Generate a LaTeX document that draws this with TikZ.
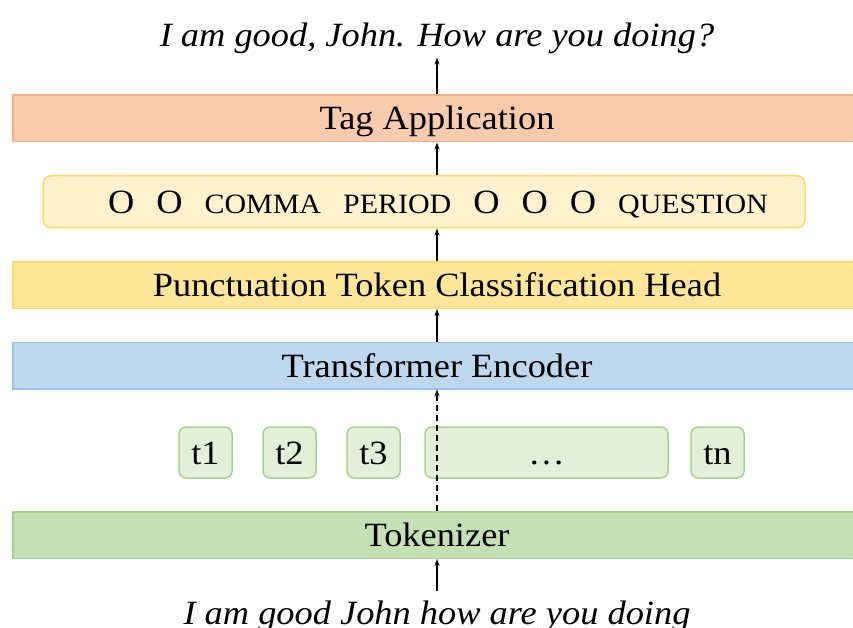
\documentclass[tikz,border=0pt]{standalone}
\usepackage{fontspec}
\setmainfont[FakeStretch=1.07]{Liberation Serif}
\usetikzlibrary{positioning,arrows.meta}
\definecolor{tagfill}{HTML}{F8CBAD}
\definecolor{tagline}{HTML}{F4B183}
\definecolor{rowfill}{HTML}{FFF2CC}
\definecolor{rowline}{HTML}{FFD966}
\definecolor{headfill}{HTML}{FFE699}
\definecolor{encfill}{HTML}{BDD7EE}
\definecolor{encline}{HTML}{9DC3E6}
\definecolor{tokfill}{HTML}{E2F0D9}
\definecolor{tokline}{HTML}{A9D18E}
\definecolor{tkzfill}{HTML}{C5E0B4}
\newcommand\bigtxt{\fontsize{34}{40}\selectfont}
\newcommand\sentence{\fontsize{34}{40}\selectfont\itshape}
\newcommand\tagword[1]{{\fontsize{28}{32}\selectfont #1}}

\begin{document}
\begin{tikzpicture}[x=1pt, y=-1pt, node distance=32.5pt, font=\bigtxt,
    bar/.style = {draw, line width=1.5pt, minimum width=848pt, minimum height=46.5pt, inner sep=0pt,
                  text height=23pt, text depth=0pt},
    tok/.style = {draw=tokline, fill=tokfill, line width=1.5pt, rounded corners=7pt,
                  minimum width=53pt, minimum height=51pt, inner sep=0pt, text height=23pt, text depth=0pt},
    arr/.style = {-{Stealth[length=7pt, width=5pt]}, line width=1.2pt}]
    \useasboundingbox (0,0) rectangle (853,628);
    \node[bar, fill=tkzfill, draw=tokline] (tkz) at (437,535) {Tokenizer};
    \node[tok, minimum width=243pt] (dots) at (546.5,452.5) {\dots};
    \node[tok] (t3) [left=23.5pt of dots] {t3};
    \node[tok] (t2) [left=29.5pt of t3] {t2};
    \node[tok] (t1) [left=29.5pt of t2] {t1};
    \node[tok] (tn) [right=21.5pt of dots] {tn};
    \node[bar, fill=encfill, draw=encline] (enc) [above=121.5pt of tkz] {Transformer Encoder};
    \node[bar, fill=headfill, draw=rowline] (head) [above=of enc] {Punctuation Token Classification Head};
    \node[draw=rowline, fill=rowfill, line width=1.5pt, rounded corners=8pt, text height=23pt, text depth=0pt,
          minimum width=762pt, minimum height=52pt, inner sep=0pt] (tags) [above=of head, xshift=-13pt]
          {\hspace*{28pt}O\hspace{22pt}O\hspace{22pt}\tagword{COMMA}\hspace{22pt}\tagword{PERIOD}\hspace{22pt}O\hspace{22pt}O\hspace{22pt}O\hspace{22pt}\tagword{QUESTION}};
    \node[bar, fill=tagfill, draw=tagline] (tagapp) [above=of tags, xshift=13pt] {Tag Application};
    \node[font=\sentence, inner sep=0pt] (out) [above=40pt of tagapp] {I am good, John. How are you doing?};
    \node[font=\sentence, inner sep=0pt] (inp) [below=42pt of tkz] {I am good John how are you doing};
    % arrows
    \draw[arr, shorten <=10pt] (tkz |- inp.north) -- (tkz.south);
    \draw[arr, dashed, dash pattern=on 6pt off 4pt] (tkz.north) -- (enc.south);
    \draw[arr] (enc.north) -- (head.south);
    \draw[arr] (head.north) -- (head.north |- tags.south);
    \draw[arr] (head.north |- tags.north) -- (tagapp.south);
    \draw[arr, shorten >=3pt] (tagapp.north) -- (tagapp.north |- out.south);
\end{tikzpicture}
\end{document}
